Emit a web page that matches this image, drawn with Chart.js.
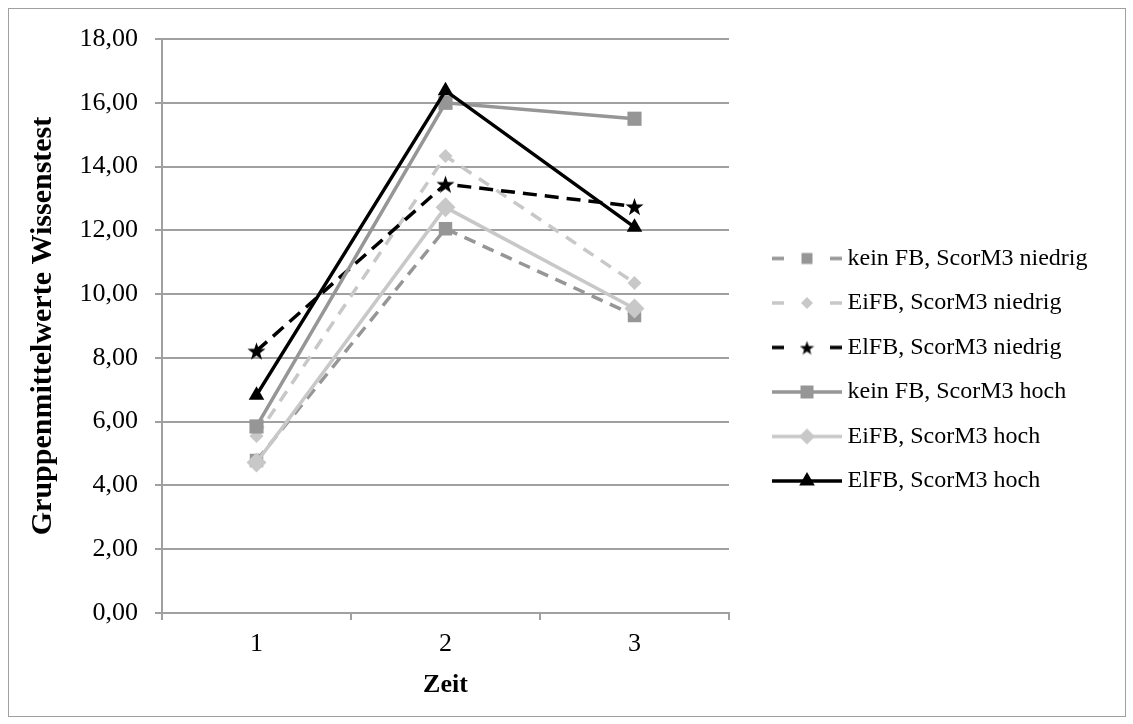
<!DOCTYPE html>
<html>
<head>
<meta charset="utf-8">
<script src="https://cdn.jsdelivr.net/npm/chart.js@4/dist/chart.umd.min.js"></script>
<style>
  html, body { margin: 0; padding: 0; background: #fff; }
  #frame { position: absolute; left: 8px; top: 8px; width: 1116px; height: 707px; border: 1px solid #a0a0a0; }
  #wrap { position: absolute; left: 0; top: 0; width: 1133px; height: 724px; }
</style>
</head>
<body>
<div id="frame"></div>
<div id="wrap"><canvas id="chart" width="1133" height="724"></canvas></div>
<script>
const zeitpunkte = ['1', '2', '3'];
const yTickWerte = [0, 2, 4, 6, 8, 10, 12, 14, 16, 18];

const keinFbNiedrig = [4.78, 12.05, 9.33];
const eiFbNiedrig = [5.55, 14.33, 10.35];
const elFbNiedrig = [8.22, 13.45, 12.75];
const keinFbHoch = [5.85, 16.0, 15.5];
const eiFbHoch = [4.72, 12.72, 9.55];
const elFbHoch = [6.83, 16.38, 12.1];

const SERIF = '"Liberation Serif", "Times New Roman", serif';
const DUNKEL = '#969696';
const HELL = '#c8c8c8';
const SCHWARZ = '#000000';
const RASTER = '#a0a0a0';
const LEGEND_BREITE = 404;

// filled five-point star, used as marker image
function sternBild(size, color) {
  const c = document.createElement('canvas');
  c.width = c.height = size;
  const g = c.getContext('2d');
  g.fillStyle = color;
  g.beginPath();
  for (let i = 0; i < 10; i++) {
    const r = i % 2 ? size * 0.2 : size / 2;
    const a = -Math.PI / 2 + i * Math.PI / 5;
    g.lineTo(size / 2 + r * Math.cos(a), size / 2 + 1 + r * Math.sin(a));
  }
  g.closePath();
  g.fill();
  return c;
}

const stern = sternBild(19, SCHWARZ);

const datasets = [
  { label: 'kein FB, ScorM3 niedrig', data: keinFbNiedrig, borderColor: DUNKEL, backgroundColor: DUNKEL,
    borderDash: [12, 8], pointStyle: 'rect', pointRadius: 9.5 },
  { label: 'EiFB, ScorM3 niedrig', data: eiFbNiedrig, borderColor: HELL, backgroundColor: HELL,
    borderDash: [12, 9], pointStyle: 'rectRot', pointRadius: 7 },
  { label: 'ElFB, ScorM3 niedrig', data: elFbNiedrig, borderColor: SCHWARZ, backgroundColor: SCHWARZ,
    borderDash: [14, 8], pointStyle: stern, pointRadius: 9 },
  { label: 'kein FB, ScorM3 hoch', data: keinFbHoch, borderColor: DUNKEL, backgroundColor: DUNKEL,
    pointStyle: 'rect', pointRadius: 10 },
  { label: 'EiFB, ScorM3 hoch', data: eiFbHoch, borderColor: HELL, backgroundColor: HELL,
    pointStyle: 'rectRot', pointRadius: 10 },
  { label: 'ElFB, ScorM3 hoch', data: elFbHoch, borderColor: SCHWARZ, backgroundColor: SCHWARZ,
    pointStyle: 'triangle', pointRadius: 9 }
].map((ds, i, all) => ({
  ...ds,
  borderWidth: 3.5,
  tension: 0,
  fill: false,
  pointBackgroundColor: ds.backgroundColor,
  pointBorderWidth: 0,
  pointHoverRadius: ds.pointRadius,
  order: all.length - i
}));

// legend sample: line piece with the marker in its middle
function legendBild(ds) {
  const c = document.createElement('canvas');
  c.width = 99;
  c.height = 24;
  const g = c.getContext('2d');
  const y = 12, x0 = 29, x1 = 99, mx = 64;
  g.strokeStyle = ds.borderColor;
  g.lineWidth = ds.borderWidth;
  if (ds.borderDash) g.setLineDash([12, 46]);
  g.beginPath();
  g.moveTo(x0, y);
  g.lineTo(x1, y);
  g.stroke();
  g.setLineDash([]);
  g.fillStyle = ds.backgroundColor;
  const klein = !!ds.borderDash;
  if (ds.pointStyle === 'rect') {
    const s = klein ? 11 : 13;
    g.fillRect(mx - s / 2, y - s / 2, s, s);
  } else if (ds.pointStyle === 'rectRot') {
    const r = klein ? 6 : 8;
    g.beginPath();
    g.moveTo(mx, y - r); g.lineTo(mx + r, y); g.lineTo(mx, y + r); g.lineTo(mx - r, y);
    g.closePath(); g.fill();
  } else if (ds.pointStyle === 'triangle') {
    const r = 9;
    g.beginPath();
    g.moveTo(mx, y - r);
    g.lineTo(mx + r * Math.sin(Math.PI * 2 / 3), y - r * Math.cos(Math.PI * 2 / 3));
    g.lineTo(mx + r * Math.sin(Math.PI * 4 / 3), y - r * Math.cos(Math.PI * 4 / 3));
    g.closePath(); g.fill();
  } else {
    const s = sternBild(15, ds.backgroundColor);
    g.drawImage(s, mx - 7.5, y - 7.5);
  }
  return c;
}

const legendBilder = datasets.map(legendBild);

// the legend would otherwise be capped at a quarter of the width
const legendBreite = {
  id: 'legendBreite',
  afterInit(chart) {
    const legend = chart.legend;
    const fit = legend.fit;
    legend.fit = function () {
      fit.call(this);
      this.width = LEGEND_BREITE;
    };
  }
};

new Chart(document.getElementById('chart'), {
  type: 'line',
  data: { labels: zeitpunkte, datasets },
  plugins: [legendBreite],
  options: {
    responsive: false,
    devicePixelRatio: 1,
    animation: false,
    layout: { padding: { top: 39, bottom: 23.6, left: 15, right: 0 } },
    scales: {
      x: {
        offset: true,
        grid: { offset: true, drawOnChartArea: false, tickLength: 7, color: RASTER, lineWidth: 2 },
        border: { color: RASTER, width: 2 },
        ticks: { color: '#000', padding: 9, maxRotation: 0, font: { family: SERIF, size: 26 } },
        title: { display: true, text: 'Zeit', color: '#000', padding: { top: 0, bottom: 0 },
          font: { family: SERIF, size: 26, weight: 'bold' } }
      },
      y: {
        min: 0,
        max: 18,
        afterBuildTicks: scale => { scale.ticks = yTickWerte.map(v => ({ value: v })); },
        grid: { tickLength: 7, color: RASTER, lineWidth: 2 },
        border: { color: RASTER, width: 2 },
        ticks: { color: '#000', padding: 17, font: { family: SERIF, size: 26 },
          callback: v => v.toFixed(2).replace('.', ',') },
        title: { display: true, text: 'Gruppenmittelwerte Wissenstest', color: '#000',
          padding: { top: 10, bottom: 1.5 }, font: { family: SERIF, size: 30, weight: 'bold' } }
      }
    },
    plugins: {
      tooltip: { enabled: false },
      legend: {
        position: 'right',
        labels: {
          usePointStyle: true,
          pointStyleWidth: 86,
          padding: 20.5,
          color: '#000',
          font: { family: SERIF, size: 24 },
          generateLabels: chart => chart.data.datasets.map((ds, i) => ({
            text: ds.label,
            pointStyle: legendBilder[i],
            fillStyle: 'transparent',
            strokeStyle: 'transparent',
            lineWidth: 0,
            fontColor: '#000',
            hidden: false,
            datasetIndex: i
          }))
        }
      }
    }
  }
});
</script>
</body>
</html>
